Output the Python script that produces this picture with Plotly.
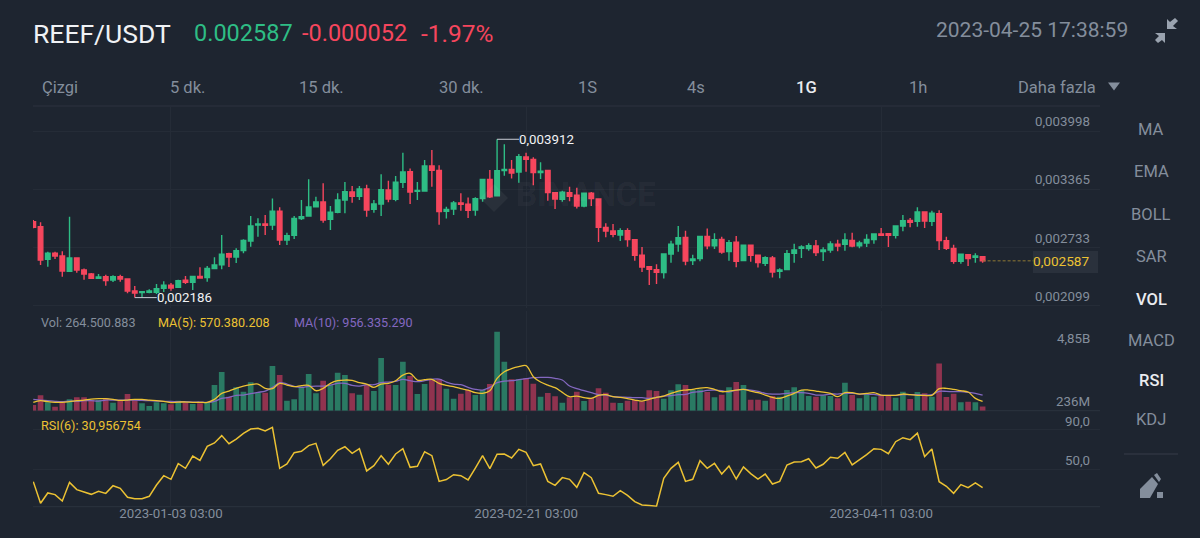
"""REEF/USDT daily chart, Binance mobile style: candles, volume and RSI panels."""
import pandas as pd
import plotly.graph_objects as go

W, H = 1200, 538
BG = "#1e2530"
GRID = "#252c37"
LINE = "#2c333e"
GREY = "#848e9c"
WHITE = "#eaecef"
UP = "#2ebd85"
DOWN = "#f6465d"
UP_DIM = "#2a7a63"
DOWN_DIM = "#90334f"
YELLOW = "#ecc233"
PURPLE = "#8468c0"
FONT = "Roboto"

dates = pd.date_range("2022-12-15 03:00", periods=132, freq="D")

# prices in millionths of a USDT
opens = [3014, 2959, 2603, 2669, 2640, 2473, 2618, 2487, 2444, 2396,
         2414, 2378, 2414, 2389, 2258, 2240, 2244, 2244, 2287, 2320,
         2298, 2375, 2353, 2418, 2404, 2502, 2545, 2665, 2629, 2698,
         2803, 2978, 2988, 2978, 3127, 2814, 2865, 3047, 3076, 3177,
         3228, 3039, 3116, 3250, 3337, 3290, 3370, 3148, 3206, 3359,
         3257, 3443, 3559, 3345, 3348, 3621, 3573, 3127, 3152, 3217,
         3203, 3141, 3265, 3475, 3297, 3570, 3584, 3555, 3719, 3693,
         3548, 3573, 3330, 3257, 3330, 3301, 3185, 3323, 3261, 2952,
         2912, 2869, 2916, 2818, 2647, 2523, 2491, 2458, 2662, 2771,
         2843, 2589, 2611, 2854, 2752, 2821, 2687, 2789, 2589, 2756,
         2647, 2560, 2618, 2473, 2491, 2669, 2723, 2720, 2749, 2687,
         2705, 2767, 2767, 2810, 2752, 2781, 2818, 2880, 2883, 2865,
         2967, 3028, 3018, 3119, 3018, 3101, 2807, 2723, 2582, 2654,
         2625, 2632]
highs = [3032, 3007, 2687, 2687, 2691, 3068, 2625, 2502, 2454, 2444,
         2436, 2429, 2436, 2396, 2313, 2255, 2276, 2335, 2364, 2345,
         2382, 2422, 2425, 2516, 2531, 2625, 2869, 2676, 2723, 2821,
         3076, 3050, 3087, 3265, 3170, 2894, 3076, 3250, 3475, 3286,
         3432, 3185, 3323, 3446, 3403, 3403, 3417, 3250, 3530, 3461,
         3512, 3766, 3592, 3446, 3686, 3795, 3628, 3177, 3239, 3323,
         3276, 3279, 3475, 3577, 3912, 3857, 3686, 3751, 3766, 3715,
         3661, 3577, 3337, 3352, 3395, 3384, 3330, 3337, 3268, 2996,
         2988, 2941, 2941, 2821, 2738, 2527, 2549, 2665, 2807, 2967,
         2916, 2654, 2858, 2938, 2887, 2850, 2814, 2858, 2763, 2763,
         2654, 2636, 2640, 2505, 2705, 2774, 2756, 2778, 2814, 2734,
         2800, 2818, 2887, 2894, 2807, 2876, 2883, 2945, 2887, 2970,
         3087, 3054, 3170, 3127, 3134, 3137, 2850, 2763, 2665, 2658,
         2669, 2640]
lows = [2941, 2542, 2523, 2607, 2414, 2465, 2458, 2382, 2389, 2389,
        2316, 2356, 2360, 2233, 2186, 2190, 2233, 2226, 2247, 2262,
        2291, 2335, 2269, 2393, 2360, 2494, 2494, 2520, 2563, 2669,
        2741, 2850, 2869, 2923, 2760, 2760, 2825, 3032, 3068, 3167,
        3003, 2923, 3105, 3105, 3221, 3250, 3068, 3112, 3076, 3225,
        3236, 3381, 3206, 3250, 3341, 3395, 2981, 3047, 3087, 3134,
        3054, 3079, 3232, 3272, 3294, 3515, 3483, 3439, 3559, 3410,
        3479, 3243, 3152, 3232, 3236, 3156, 3170, 3185, 2792, 2843,
        2843, 2803, 2741, 2589, 2465, 2324, 2335, 2393, 2567, 2687,
        2538, 2542, 2582, 2712, 2716, 2665, 2589, 2516, 2585, 2578,
        2513, 2531, 2404, 2396, 2487, 2567, 2618, 2698, 2640, 2585,
        2676, 2691, 2698, 2734, 2723, 2738, 2774, 2858, 2738, 2829,
        2909, 2952, 2959, 2945, 2967, 2705, 2705, 2556, 2556, 2531,
        2567, 2567]
closes = [2952, 2596, 2669, 2640, 2476, 2618, 2487, 2444, 2396, 2411,
          2371, 2414, 2389, 2258, 2236, 2251, 2258, 2284, 2320, 2291,
          2371, 2353, 2418, 2400, 2505, 2542, 2658, 2629, 2698, 2810,
          2967, 2988, 2974, 3127, 2814, 2861, 3050, 3068, 3174, 3228,
          3032, 3116, 3250, 3341, 3290, 3370, 3141, 3206, 3363, 3261,
          3443, 3555, 3337, 3355, 3621, 3573, 3123, 3148, 3217, 3203,
          3137, 3265, 3475, 3286, 3570, 3584, 3544, 3722, 3693, 3548,
          3563, 3330, 3261, 3334, 3290, 3185, 3323, 3265, 2952, 2912,
          2876, 2916, 2818, 2647, 2520, 2494, 2462, 2662, 2767, 2840,
          2585, 2607, 2854, 2752, 2818, 2683, 2785, 2582, 2756, 2647,
          2567, 2622, 2465, 2487, 2665, 2705, 2738, 2752, 2676, 2705,
          2771, 2749, 2814, 2749, 2781, 2821, 2880, 2865, 2865, 2967,
          3025, 3007, 3119, 3021, 3105, 2807, 2723, 2582, 2658, 2611,
          2639, 2587]

# volume in millions
volumes = [348, 941, 512, 246, 491, 696, 818, 818, 655, 655,
           757, 491, 614, 1023, 655, 450, 286, 512, 450, 389,
           614, 491, 409, 450, 491, 1575, 2373, 859, 1432, 1166,
           1739, 1105, 1105, 2742, 2189, 614, 696, 1473, 2251, 1064,
           1841, 1555, 2332, 2189, 1064, 982, 1596, 1207, 3233, 1596,
           1575, 3008, 2128, 1023, 1637, 1882, 1944, 1350, 737, 1043,
           1269, 962, 1269, 1637, 4850, 3008, 1923, 1923, 1985, 1657,
           859, 1084, 880, 491, 818, 1166, 593, 798, 1371, 1105,
           491, 471, 614, 655, 573, 1248, 1207, 737, 1248, 1616,
           1575, 1269, 1309, 1146, 818, 982, 1432, 1760, 1575, 675,
           675, 614, 900, 859, 1269, 1432, 1269, 900, 859, 941,
           900, 757, 1719, 962, 757, 1023, 859, 962, 941, 798,
           1166, 716, 1146, 1064, 859, 2905, 839, 1043, 512, 552,
           512, 264.5]
ma5 = [512, 614, 552, 512, 512, 552, 614, 655, 716, 737,
       737, 696, 634, 655, 696, 696, 655, 614, 573, 491,
       532, 532, 512, 512, 512, 696, 1064, 1207, 1371, 1514,
       1596, 1637, 1371, 1350, 1678, 1575, 1473, 1535, 1555, 1228,
       1371, 1678, 1841, 1882, 1862, 1719, 1637, 1432, 1637, 1678,
       1841, 2189, 2292, 1882, 1903, 1923, 1678, 1555, 1473, 1350,
       1269, 1105, 1064, 1228, 1985, 2394, 2578, 2701, 2762, 2087,
       1760, 1575, 1412, 1125, 859, 900, 798, 757, 941, 982,
       859, 818, 737, 655, 593, 696, 818, 900, 1064, 1207,
       1269, 1309, 1391, 1412, 1309, 1166, 1207, 1269, 1309, 1207,
       1105, 962, 818, 757, 900, 1064, 1269, 1269, 1207, 1146,
       1064, 859, 1105, 1105, 1023, 1064, 1105, 962, 941, 941,
       1023, 982, 941, 941, 941, 1350, 1371, 1309, 1228, 1146,
       757, 570.4]
ma10 = [696, 655, 614, 573, 552, 593, 573, 614, 614, 593,
        655, 655, 655, 655, 655, 634, 614, 593, 573, 573,
        552, 552, 532, 532, 512, 573, 757, 818, 941, 962,
        1043, 1125, 1207, 1432, 1719, 1637, 1494, 1432, 1494, 1514,
        1514, 1575, 1678, 1678, 1555, 1514, 1596, 1596, 1719, 1760,
        1800, 1923, 1841, 1780, 1841, 1923, 1944, 1760, 1637, 1596,
        1432, 1309, 1269, 1432, 1719, 1821, 1841, 1903, 1964, 2026,
        2046, 2046, 1985, 1882, 1514, 1350, 1228, 1105, 982, 962,
        859, 839, 818, 798, 798, 757, 818, 900, 921, 982,
        1003, 1125, 1166, 1248, 1269, 1228, 1146, 1269, 1309, 1269,
        1187, 1064, 1023, 1023, 1064, 1105, 1105, 1064, 962, 962,
        1023, 1023, 1064, 1064, 1023, 1023, 1003, 941, 941, 941,
        982, 982, 982, 962, 982, 1187, 1187, 1166, 1166, 1125,
        1064, 956.3]
rsi6 = [37.1, 15.1, 25.6, 23.9, 17.4, 36.4, 29.0, 26.6, 24.2, 27.3,
        25.2, 33.0, 30.3, 21.2, 19.8, 19.8, 22.2, 33.7, 43.2, 39.5,
        55.4, 50.7, 63.2, 58.8, 73.1, 76.5, 84.0, 75.8, 80.5, 86.3,
        90.7, 91.4, 88.7, 92.4, 50.7, 55.1, 66.6, 68.0, 73.8, 76.1,
        53.7, 60.5, 69.0, 72.7, 66.0, 70.7, 48.0, 53.4, 63.6, 54.8,
        65.3, 70.7, 51.7, 52.7, 67.6, 63.6, 37.4, 39.2, 44.2, 43.2,
        38.8, 51.0, 63.6, 50.3, 65.0, 65.3, 61.2, 70.0, 67.0, 53.4,
        55.1, 37.4, 33.4, 41.2, 39.5, 31.3, 46.3, 41.2, 25.2, 23.9,
        22.2, 28.0, 23.2, 16.8, 13.4, 12.7, 12.0, 40.5, 50.7, 56.8,
        37.4, 39.5, 58.5, 50.7, 55.8, 44.9, 53.1, 39.8, 52.1, 45.3,
        39.8, 44.9, 34.7, 37.4, 54.1, 57.1, 57.5, 60.5, 51.0, 54.8,
        61.9, 60.9, 67.0, 54.1, 59.2, 64.6, 70.7, 70.0, 65.6, 77.8,
        81.9, 79.9, 86.6, 62.6, 70.4, 37.1, 32.4, 25.2, 34.1, 31.0,
        35.8, 30.96]

price_ticks = [3998, 3365, 2733, 2099]
price_labels = ["0,003998", "0,003365", "0,002733", "0,002099"]
date_ticks = ["2023-01-03 03:00", "2023-02-21 03:00", "2023-04-11 03:00"]
tabs = ["Çizgi", "5 dk.", "15 dk.", "30 dk.", "1S", "4s", "1G", "1h", "Daha fazla"]
tab_left = [42, 170, 299, 439, 578, 687, 796, 909, 1018]
indicators = ["MA", "EMA", "BOLL", "SAR", "VOL", "MACD", "RSI", "KDJ"]
indicator_y = [129, 172, 214, 257, 299, 340, 380, 419]


def px(x):
    return x / W


def py(y):
    return 1 - y / H


def label(text, x, y, size=13.3, color=GREY, anchor="left", weight=400):
    return dict(text=text, x=px(x), y=py(y), xref="paper", yref="paper", xanchor=anchor,
                yanchor="middle", showarrow=False, borderpad=0, borderwidth=0,
                font=dict(family=FONT, size=size, color=color, weight=weight))


def poly(points, color):
    path = "M" + " L".join(f"{px(a):.5f},{py(b):.5f}" for a, b in points) + " Z"
    return dict(type="path", path=path, xref="paper", yref="paper", fillcolor=color, line=dict(width=0))


def rule(y):
    return dict(type="line", xref="paper", yref="paper", x0=px(33), x1=px(1100), y0=py(y), y1=py(y),
                line=dict(color=LINE, width=1), layer="below")


fig = go.Figure()
fig.add_trace(go.Candlestick(
    x=dates, open=opens, high=highs, low=lows, close=closes, xaxis="x", yaxis="y",
    increasing=dict(line=dict(color=UP, width=1.4), fillcolor=UP),
    decreasing=dict(line=dict(color=DOWN, width=1.4), fillcolor=DOWN),
))
bar_colors = [UP_DIM if c >= o else DOWN_DIM for o, c in zip(opens, closes)]
fig.add_trace(go.Bar(x=dates, y=volumes, marker=dict(color=bar_colors, line=dict(width=0)), xaxis="x", yaxis="y2"))
fig.add_trace(go.Scatter(x=dates, y=ma10, mode="lines", line=dict(color=PURPLE, width=1.3, shape="spline"), xaxis="x", yaxis="y2"))
fig.add_trace(go.Scatter(x=dates, y=ma5, mode="lines", line=dict(color=YELLOW, width=1.3, shape="spline"), xaxis="x", yaxis="y2"))
fig.add_trace(go.Scatter(x=dates, y=rsi6, mode="lines", line=dict(color=YELLOW, width=1.5), xaxis="x", yaxis="y3"))

annotations = [
    label("REEF/USDT", 33, 33, size=26.5, color="#f0f2f5"),
    label("0.002587", 194, 33, size=23.5, color=UP),
    label("-0.000052", 302, 33, size=23.5, color=DOWN),
    label("-1.97%", 421, 33, size=24.5, color=DOWN),
    label("2023-04-25 17:38:59", 1128, 30, size=21, anchor="right"),
    label("Vol: 264.500.883", 41, 322, size=12.6),
    label("MA(5): 570.380.208", 158, 322, size=12.6, color=YELLOW),
    label("MA(10): 956.335.290", 294, 322, size=12.6, color=PURPLE),
    label("RSI(6): 30,956754", 41, 425.5, size=12.6, color=YELLOW),
    label("4,85B", 1090, 338, anchor="right"),
    label("236M", 1090, 401, anchor="right"),
    label("90,0", 1090, 421, anchor="right"),
    label("50,0", 1090, 460, anchor="right"),
    label("0,002587", 1090, 261.5, color=YELLOW, size=13.6, anchor="right"),
    label("BINANCE", 516, 194.5, size=33, color="rgba(255,255,255,0.05)", weight=700),
]
for name, x in zip(tabs, tab_left):
    selected = name == "1G"
    annotations.append(label(name, x, 88, size=16.5, color=WHITE if selected else GREY, weight=500 if selected else 400))
for name, y in zip(indicators, indicator_y):
    active = name in ("VOL", "RSI")
    annotations.append(label(name, 1151, y, size=16.5, color=WHITE if active else GREY, anchor="center", weight=500 if active else 400))
for text, y in zip(price_labels, [122, 180, 238, 297]):
    annotations.append(label(text, 1090, y, anchor="right"))

# high and low callouts hang off their candles
for idx, value, text in [(64, highs[64], "0,003912"), (14, lows[14], "0,002186")]:
    annotations.append(dict(
        x=dates[idx], y=value, xref="x", yref="y", ax=22, ay=0, text=text, xanchor="left", yanchor="middle",
        showarrow=True, arrowhead=0, arrowwidth=1, arrowcolor="#c9ced6", standoff=0, borderpad=0, borderwidth=0,
        font=dict(family=FONT, size=13.3, color="#f2f3f5"),
    ))

shapes = [rule(106), rule(410.7), rule(506.7)]
shapes += [
    # last price box and its dashed line
    dict(type="rect", xref="paper", yref="paper", x0=px(1033), x1=px(1098), y0=py(251), y1=py(273),
         fillcolor="#2a313c", line=dict(width=0), layer="below"),
    dict(type="line", xref="x", yref="y", x0=dates[-1], x1="2023-05-02 03:00", y0=closes[-1], y1=closes[-1],
         line=dict(color="#8f7a35", width=1, dash="3px,2px")),
    # watermark logo
    poly([(494, 184), (508, 198), (494, 212), (480, 198)], "rgba(255,255,255,0.05)"),
    # next indicator, cut off by the panel edge
    dict(type="line", xref="paper", yref="paper", x0=px(1124), x1=px(1178), y0=py(454), y1=py(454),
         line=dict(color="#363d49", width=1)),
    # drop-down triangle
    poly([(1108, 82.5), (1120, 82.5), (1114, 90.5)], GREY),
    # fullscreen-exit icon
    poly([(1167, 29), (1167, 19), (1170, 22), (1175, 18), (1178, 21), (1173, 26), (1177, 29)], "#9aa3af"),
    poly([(1165, 33), (1165, 43), (1162, 40), (1158, 43), (1155, 40), (1159, 36), (1155, 33)], "#9aa3af"),
    # drawing tool icon
    poly([(1140, 498), (1140, 489), (1152, 477), (1158, 484), (1150, 498)], GREY),
    poly([(1154, 475), (1157, 473), (1161, 479), (1159, 482)], GREY),
    poly([(1157, 492), (1163, 492), (1163, 498), (1157, 498)], GREY),
]

fig.update_layout(
    width=W, height=H, margin=dict(l=0, r=0, t=0, b=0),
    paper_bgcolor=BG, plot_bgcolor=BG, showlegend=False,
    boxgap=0.1, bargap=0.22, annotations=annotations, shapes=shapes,
    xaxis=dict(
        type="date", domain=[px(33), px(1100)], range=["2022-12-15 02:00", "2023-05-11 07:48"],
        anchor="y3", rangeslider=dict(visible=False), tickvals=date_ticks, ticktext=date_ticks, tickmode="array",
        showgrid=True, gridcolor=GRID, gridwidth=1, zeroline=False, showline=False, ticks="", ticklabelstandoff=-3,
        tickfont=dict(family=FONT, size=13.3, color=GREY),
    ),
    yaxis=dict(
        domain=[py(308), py(107)], range=[5430 - 10.9 * 308, 5430 - 10.9 * 107], tickvals=price_ticks,
        showticklabels=False, showgrid=True, gridcolor=GRID, zeroline=False,
    ),
    yaxis2=dict(
        domain=[py(410.7), py(311)], range=[0, 6120], tickvals=[],
        showticklabels=False, showgrid=False, zeroline=False,
    ),
    yaxis3=dict(
        domain=[py(506.7), py(415)], range=[11.6, 105], tickvals=[50, 90],
        showticklabels=False, showgrid=True, gridcolor=GRID, zeroline=False,
    ),
)

# drop the page's default body margin so the figure fills the window
fig.write_html("out.html", post_script="document.body.style.margin='0';", config=dict(displayModeBar=False))
